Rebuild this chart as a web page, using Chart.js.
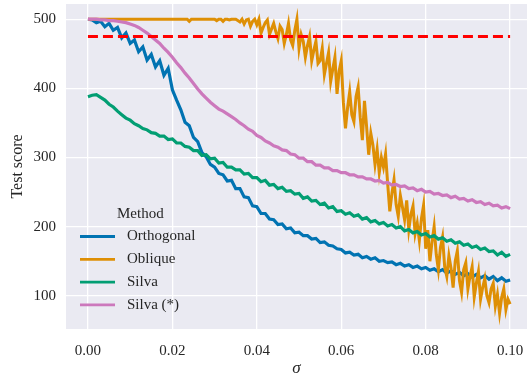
<!DOCTYPE html>
<html>
<head>
<meta charset="utf-8">
<script src="https://cdn.jsdelivr.net/npm/chart.js@4.4.1/dist/chart.umd.min.js"></script>
<style>
html,body{margin:0;padding:0;background:#fff;overflow:hidden;}
#wrap{width:527px;height:380px;position:relative;}
</style>
</head>
<body>
<div id="wrap"><canvas id="c" width="527" height="380"></canvas></div>
<script>
const sigma = [0.000,0.001,0.002,0.003,0.004,0.005,0.006,0.007,0.008,0.009,
0.010,0.011,0.012,0.013,0.014,0.015,0.016,0.017,0.018,0.019,
0.020,0.021,0.022,0.023,0.024,0.025,0.026,0.027,0.028,0.029,
0.030,0.031,0.032,0.033,0.034,0.035,0.036,0.037,0.038,0.039,
0.040,0.041,0.042,0.043,0.044,0.045,0.046,0.047,0.048,0.049,
0.050,0.051,0.052,0.053,0.054,0.055,0.056,0.057,0.058,0.059,
0.060,0.061,0.062,0.063,0.064,0.065,0.066,0.067,0.068,0.069,
0.070,0.071,0.072,0.073,0.074,0.075,0.076,0.077,0.078,0.079,
0.080,0.081,0.082,0.083,0.084,0.085,0.086,0.087,0.088,0.089,
0.090,0.091,0.092,0.093,0.094,0.095,0.096,0.097,0.098,0.099,0.100];

// finer grid used for the very noisy Oblique curve
const sigmaFine = [0.0000,0.0005,0.0010,0.0015,0.0020,0.0025,0.0030,0.0035,0.0040,0.0045,
0.0050,0.0055,0.0060,0.0065,0.0070,0.0075,0.0080,0.0085,0.0090,0.0095,
0.0100,0.0105,0.0110,0.0115,0.0120,0.0125,0.0130,0.0135,0.0140,0.0145,
0.0150,0.0155,0.0160,0.0165,0.0170,0.0175,0.0180,0.0185,0.0190,0.0195,
0.0200,0.0205,0.0210,0.0215,0.0220,0.0225,0.0230,0.0235,0.0240,0.0245,
0.0250,0.0255,0.0260,0.0265,0.0270,0.0275,0.0280,0.0285,0.0290,0.0295,
0.0300,0.0305,0.0310,0.0315,0.0320,0.0325,0.0330,0.0335,0.0340,0.0345,
0.0350,0.0355,0.0360,0.0365,0.0370,0.0375,0.0380,0.0385,0.0390,0.0395,
0.0400,0.0405,0.0410,0.0415,0.0420,0.0425,0.0430,0.0435,0.0440,0.0445,
0.0450,0.0455,0.0460,0.0465,0.0470,0.0475,0.0480,0.0485,0.0490,0.0495,
0.0500,0.0505,0.0510,0.0515,0.0520,0.0525,0.0530,0.0535,0.0540,0.0545,
0.0550,0.0555,0.0560,0.0565,0.0570,0.0575,0.0580,0.0585,0.0590,0.0595,
0.0600,0.0605,0.0610,0.0615,0.0620,0.0625,0.0630,0.0635,0.0640,0.0645,
0.0650,0.0655,0.0660,0.0665,0.0670,0.0675,0.0680,0.0685,0.0690,0.0695,
0.0700,0.0705,0.0710,0.0715,0.0720,0.0725,0.0730,0.0735,0.0740,0.0745,
0.0750,0.0755,0.0760,0.0765,0.0770,0.0775,0.0780,0.0785,0.0790,0.0795,
0.0800,0.0805,0.0810,0.0815,0.0820,0.0825,0.0830,0.0835,0.0840,0.0845,
0.0850,0.0855,0.0860,0.0865,0.0870,0.0875,0.0880,0.0885,0.0890,0.0895,
0.0900,0.0905,0.0910,0.0915,0.0920,0.0925,0.0930,0.0935,0.0940,0.0945,
0.0950,0.0955,0.0960,0.0965,0.0970,0.0975,0.0980,0.0985,0.0990,0.0995,0.1000];

const orthogonal = [500,499,495,497,489,494,484,488,473,480,
465,470,453,460,441,449,431,440,419,429,
398,383,369,351,346,329,323,307,301,290,
286,277,275,266,267,255,255,243,242,230,
229,219,219,211,210,203,204,197,198,191,
192,187,187,182,183,177,178,173,172,168,
167,162,163,159,160,155,157,153,155,150,
151,148,149,145,147,143,145,141,143,139,
141,137,139,135,138,133,136,131,134,129,
132,127,131,126,129,124,128,122,126,121,123];

const oblique = [500,500,500,500,500,500,500,500,500,500,
500,500,500,500,500,500,500,500,500,500,
500,500,500,500,500,500,500,500,500,500,
500,500,500,500,500,500,500,500,500,500,
500,500,500,500,500,500,500,500,497,500,
500,500,500,500,500,500,500,500,500,500,
500,498,500,500,497,500,500,499,500,500,
500,498,496,500,493,499,500,490,497,500,
492,500,480,488,495,499,478,486,494,482,
472,490,485,465,478,494,470,462,484,500,
458,478,468,445,462,475,440,455,468,436,
440,458,420,436,452,410,428,445,392,425,
440,380,342,372,395,362,352,388,402,358,
325,382,345,304,335,318,290,312,278,300,
286,305,262,222,248,268,232,215,245,228,
210,238,196,218,230,190,205,180,212,231,
168,195,150,178,200,160,138,170,185,142,
128,158,140,112,150,165,122,105,138,148,
110,128,142,98,118,135,95,112,125,100,
90,110,118,85,102,75,98,110,80,95,88];

const silva = [388,390,391,387,383,377,373,367,362,357,
354,349,346,342,340,336,335,331,331,326,
327,321,321,316,315,310,310,303,304,298,
299,292,293,286,286,282,282,276,277,271,
271,265,267,260,261,255,257,251,252,247,
248,241,243,237,238,232,234,227,229,222,
223,218,220,215,217,211,213,207,209,204,
206,201,203,198,200,194,196,191,193,188,
190,185,187,182,184,179,181,176,178,173,
175,170,172,167,169,164,165,159,163,157,160];

const silvaStar = [500,500,500,499,499,498,498,497,496,495,
493,491,488,484,480,475,470,465,458,452,
445,437,430,422,415,407,399,392,386,380,
375,370,367,363,359,355,350,346,341,338,
332,329,324,321,317,315,311,310,305,304,
299,299,294,294,289,289,285,285,281,281,
278,278,275,275,272,272,269,269,266,267,
263,264,260,261,258,259,255,256,252,254,
250,251,247,248,245,246,242,244,240,241,
237,239,235,236,232,234,230,231,227,229,226];

const threshold = 475;
const seriesNames = ['Orthogonal','Oblique','Silva','Silva (*)'];
const seriesColors = ['#0173B2','#DE8F05','#029E73','#CC78BC'];
const seriesValues = [orthogonal, oblique, silva, silvaStar];
const seriesX = [sigma, sigmaFine, sigma, sigma];
const xTicks = [0.00,0.02,0.04,0.06,0.08,0.10];
const yTicks = [100,200,300,400,500];
const legendTitle = 'Method';

const FONT = "'Liberation Serif', 'DejaVu Serif', serif";
const TEXT = '#262626';

const datasets = seriesValues.map((vals,i)=>({
  label: seriesNames[i],
  data: seriesX[i].map((s,j)=>({x:s,y:vals[j]})),
  borderColor: seriesColors[i],
  backgroundColor: seriesColors[i],
  borderWidth: i===1 ? 3 : 3.2,
  pointRadius: 0,
  tension: 0,
  order: 4 - i + 1
}));
datasets.push({
  label: 'threshold',
  data: [{x:sigma[0],y:threshold},{x:sigma[sigma.length-1],y:threshold}],
  borderColor: '#FF0000',
  borderWidth: 3,
  borderDash: [10,5],
  pointRadius: 0,
  order: 0
});

const bgPlugin = {
  id:'bg',
  beforeDraw(chart){
    const {ctx, chartArea:a} = chart;
    ctx.save();
    ctx.fillStyle = '#EAEAF2';
    ctx.fillRect(a.left, a.top, a.right-a.left, a.bottom-a.top);
    ctx.restore();
  }
};

const legendPlugin = {
  id:'inlegend',
  afterDraw(chart){
    const ctx = chart.ctx;
    ctx.save();
    ctx.font = "15px " + FONT;
    ctx.fillStyle = TEXT;
    ctx.textBaseline = 'middle';
    ctx.textAlign = 'left';
    ctx.fillText(legendTitle, 117, 214);
    const y0 = 236.5, dy = 22.8;
    seriesNames.forEach((n,i)=>{
      const y = y0 + i*dy;
      ctx.strokeStyle = seriesColors[i];
      ctx.lineWidth = 2.8;
      ctx.beginPath(); ctx.moveTo(80,y); ctx.lineTo(115,y); ctx.stroke();
      ctx.fillStyle = TEXT;
      ctx.fillText(n, 127, y);
    });
    ctx.restore();
  }
};

new Chart(document.getElementById('c'), {
  type:'line',
  data:{datasets},
  options:{
    responsive:false,
    animation:false,
    devicePixelRatio:1,
    layout:{padding:{left:0,right:0,top:4,bottom:0}},
    plugins:{legend:{display:false}, tooltip:{enabled:false}},
    scales:{
      x:{
        type:'linear', min:-0.0052, max:0.104,
        afterBuildTicks(s){ s.ticks = xTicks.map(v=>({value:v})); },
        afterFit(s){ s.height = 51; s.paddingLeft = 0; s.paddingRight = 0; },
        grid:{color:'#FFFFFF', lineWidth:1.3, drawTicks:false},
        border:{display:false},
        ticks:{color:TEXT, font:{family:FONT,size:15}, padding:13,
          callback:(v)=>v.toFixed(2), maxRotation:0},
        title:{display:true, text:'σ', color:TEXT, font:{family:FONT,size:17,style:'italic'}, padding:{top:0,bottom:1}}
      },
      y:{
        type:'linear', min:52, max:522,
        afterBuildTicks(s){ s.ticks = yTicks.map(v=>({value:v})); },
        afterFit(s){ s.width = 66; s.paddingTop = 0; s.paddingBottom = 0; },
        grid:{color:'#FFFFFF', lineWidth:1.3, drawTicks:false},
        border:{display:false},
        ticks:{color:TEXT, font:{family:FONT,size:15}, padding:10},
        title:{display:true, text:'Test score', color:TEXT, font:{family:FONT,size:16}, padding:{top:8,bottom:0}}
      }
    }
  },
  plugins:[bgPlugin, legendPlugin]
});
</script>
</body>
</html>
